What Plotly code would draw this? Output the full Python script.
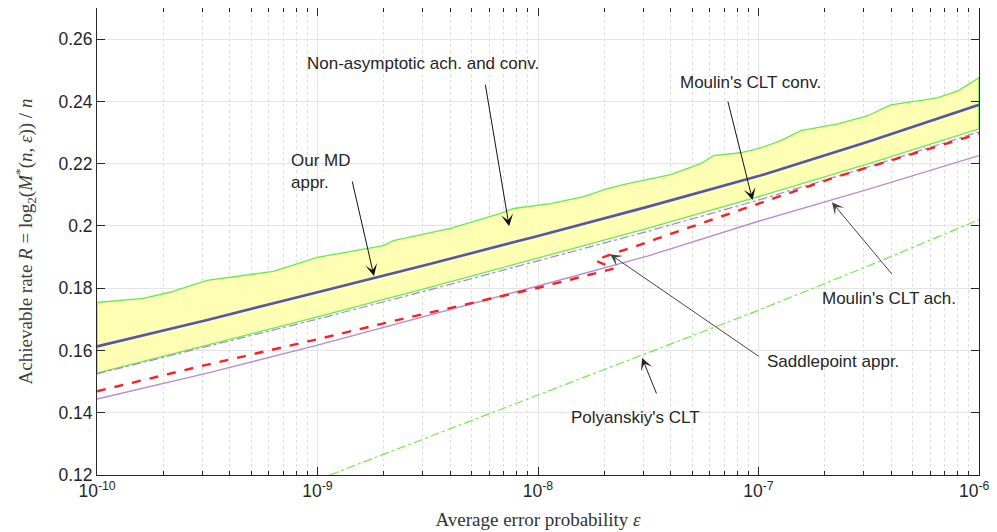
import plotly.graph_objects as go

# ---------------- data (log10 of error probability, achievable rate) ----------------
conv_lx = [-10, -9.791, -9.669, -9.501, -9.201, -9.001, -8.701, -8.656, -8.397, -8.170,
           -8.111, -7.943, -7.793, -7.684, -7.594, -7.398, -7.262, -7.203, -7.081, -6.990,
           -6.899, -6.808, -6.640, -6.504, -6.400, -6.277, -6.186, -6.095, -6.0]
conv_y = [0.1754, 0.1767, 0.1787, 0.1825, 0.1854, 0.1899, 0.1937, 0.1953, 0.1992, 0.2040,
          0.2056, 0.2072, 0.2094, 0.2120, 0.2136, 0.2165, 0.2200, 0.2226, 0.2235, 0.2251,
          0.2274, 0.2306, 0.2328, 0.2354, 0.2389, 0.2402, 0.2412, 0.2434, 0.2476]

grid_lx = [-10, -9.5, -9, -8.5, -8, -7.5, -7, -6.5, -6]
ach_y = [0.1527, 0.1617, 0.1708, 0.1801, 0.1897, 0.1993, 0.2094, 0.2200, 0.2312]
md_y = [0.1613, 0.1698, 0.1787, 0.1876, 0.1968, 0.2062, 0.2160, 0.2271, 0.2389]
moulin_conv_y = [0.1525, 0.1612, 0.1701, 0.1793, 0.1887, 0.1983, 0.2083, 0.2190, 0.2302]
moulin_ach_y = [0.1444, 0.1527, 0.1617, 0.1711, 0.1807, 0.1904, 0.2015, 0.2118, 0.2226]

saddle_lx = [-10, -9.532, -9.0, -8.624, -7.989, -7.657, -7.739, -7.684, -7.535, -7.457,
             -7.035, -6.658, -6.0]
saddle_y = [0.1469, 0.1549, 0.1636, 0.1700, 0.1803, 0.1863, 0.1889, 0.1905, 0.1940, 0.1960,
            0.2063, 0.2155, 0.2296]

poly_lx = [-8.944, -8.5, -8, -7.5, -7, -6.5, -6]
poly_y = [0.1200, 0.1321, 0.1456, 0.1592, 0.1729, 0.1872, 0.2020]

x_tick_exp = [-10, -9, -8, -7, -6]
x_tick_text = ["10<sup>-10</sup>", "10<sup>-9</sup>", "10<sup>-8</sup>", "10<sup>-7</sup>",
               "10<sup>-6</sup>&nbsp;&nbsp;"]
y_ticks = [0.12, 0.14, 0.16, 0.18, 0.2, 0.22, 0.24, 0.26]
y_tick_text = ["0.12", "0.14", "0.16", "0.18", "0.2", "0.22", "0.24", "0.26"]


def e(lx):
    return [10 ** v for v in lx]


minor_vals = [m * 10 ** d for d in range(-10, -6) for m in range(2, 10)]

# ---------------- figure ----------------
fig = go.Figure()

# shaded region between non-asymptotic achievability and converse
poly_x = e(grid_lx) + e(conv_lx[::-1]) + [10 ** grid_lx[0]]
poly_yv = ach_y + conv_y[::-1] + [ach_y[0]]
fig.add_trace(go.Scatter(x=poly_x, y=poly_yv, mode="lines", fill="toself",
                         fillcolor="rgb(255,255,180)",
                         line=dict(color="rgb(100,235,80)", width=1.3),
                         hoverinfo="skip", showlegend=False))

fig.add_trace(go.Scatter(x=e(grid_lx), y=moulin_conv_y, mode="lines",
                         line=dict(color="rgb(175,130,200)", width=1.2, dash="dashdot"),
                         showlegend=False))
fig.add_trace(go.Scatter(x=e(grid_lx), y=moulin_ach_y, mode="lines",
                         line=dict(color="rgb(185,140,210)", width=1.4),
                         showlegend=False))
fig.add_trace(go.Scatter(x=e(saddle_lx), y=saddle_y, mode="lines",
                         line=dict(color="rgb(255,30,30)", width=2.4, dash="dash"),
                         showlegend=False))
fig.add_trace(go.Scatter(x=e(grid_lx), y=md_y, mode="lines",
                         line=dict(color="rgb(85,85,170)", width=2.6),
                         showlegend=False))
fig.add_trace(go.Scatter(x=e(poly_lx), y=poly_y, mode="lines",
                         line=dict(color="rgb(110,235,70)", width=1.2, dash="dashdot"),
                         showlegend=False))

txt_font = dict(family="Liberation Sans, Arial, sans-serif", size=17, color="#262626")

# text labels (x in log10 units for the log axis)
labels = [
    ("Non-asymptotic ach. and conv.", -8.522, 0.2523, "center"),
    ("Our MD<br>appr.", -9.129, 0.2174, "left"),
    ("Moulin's CLT conv.", -7.036, 0.2462, "center"),
    ("Moulin's CLT ach.", -6.408, 0.1768, "center"),
    ("Saddlepoint appr.", -6.662, 0.1563, "center"),
    ("Polyanskiy's CLT", -7.560, 0.1386, "center"),
]
for t, lx, yv, anc in labels:
    fig.add_annotation(x=lx, y=yv, text=t, showarrow=False, xanchor=anc, yanchor="middle",
                       align="left", font=txt_font)

# arrows: tip (log10 x, y), tail pixel offset, color
arrows = [
    (-8.131, 0.1999, -24, -143, "#111111"),
    (-8.744, 0.1839, -22, -96, "#111111"),
    (-7.027, 0.2083, -25, -100, "#111111"),
    (-6.667, 0.2076, 61, 73, "#444444"),
    (-7.673, 0.1909, 150, 103, "#444444"),
    (-7.528, 0.1576, 15, 37, "#222222"),
]
for lx, yv, ax, ay, col in arrows:
    fig.add_annotation(x=lx, y=yv, ax=ax, ay=ay, text="", showarrow=True,
                       arrowhead=3, arrowsize=2.0, arrowwidth=1, arrowcolor=col)

axis_common = dict(showline=True, linecolor="#262626", linewidth=1, mirror="ticks",
                   ticks="inside", ticklen=8, tickcolor="#262626",
                   showgrid=True, gridcolor="rgb(228,228,228)", gridwidth=1,
                   zeroline=False, automargin=False, ticklabeloverflow="allow",
                   tickfont=dict(family="Liberation Sans, Arial, sans-serif", size=17.5,
                                 color="#262626"))

fig.update_xaxes(type="log", range=[-10, -6], tickmode="array",
                 tickvals=e(x_tick_exp), ticktext=x_tick_text,
                 minor=dict(tickvals=minor_vals, ticks="inside", ticklen=4,
                            tickcolor="#262626", showgrid=True,
                            gridcolor="rgb(222,222,222)", griddash="dot"),
                 title=dict(text="Average error probability <i>ε</i>",
                            font=dict(family="Liberation Serif, DejaVu Serif, serif",
                                      size=19, color="#333333"),
                            standoff=12),
                 **axis_common)
fig.update_yaxes(range=[0.12, 0.27], tickmode="array", tickvals=y_ticks,
                 ticktext=y_tick_text,
                 title=dict(text="Achievable rate <i>R</i> = log<sub>2</sub>(<i>M</i><sup>*</sup>(<i>n</i>, <i>ε</i>)) / <i>n</i>",
                            font=dict(family="Liberation Serif, DejaVu Serif, serif",
                                      size=19, color="#404040"),
                            standoff=20),
                 **axis_common)

# the page body adds an 8px margin around the figure, so the figure is offset for it
fig.update_layout(width=989, height=524,
                  margin=dict(l=89, r=18, t=0, b=57),
                  plot_bgcolor="white", paper_bgcolor="white")

fig.write_html("out.html")
